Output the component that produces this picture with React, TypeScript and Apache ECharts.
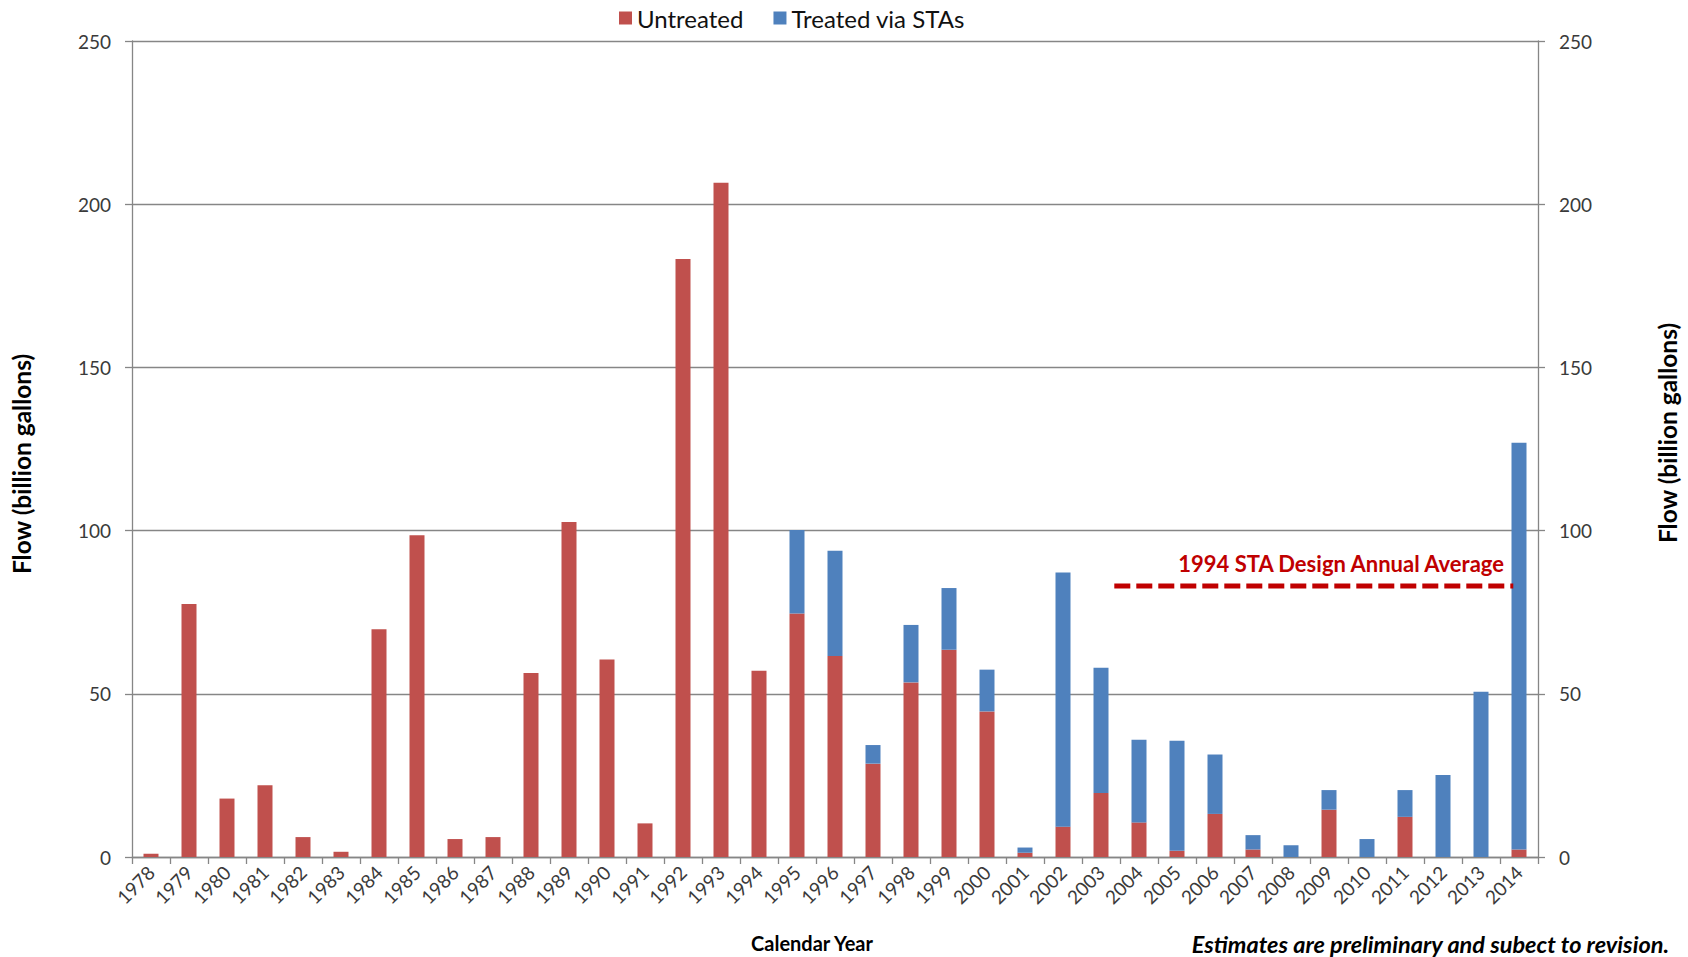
import React, { useEffect, useRef } from "react";
import * as echarts from "echarts";

const years: string[] = [
  "1978", "1979", "1980", "1981", "1982", "1983", "1984", "1985", "1986", "1987",
  "1988", "1989", "1990", "1991", "1992", "1993", "1994", "1995", "1996", "1997",
  "1998", "1999", "2000", "2001", "2002", "2003", "2004", "2005", "2006", "2007",
  "2008", "2009", "2010", "2011", "2012", "2013", "2014",
];

const untreated: number[] = [
  1.0, 77.5, 17.9, 22.0, 6.1, 1.6, 69.8, 98.6, 5.5, 6.1,
  56.4, 102.6, 60.5, 10.3, 183.2, 206.6, 57.1, 74.6, 61.6, 28.6,
  53.5, 63.5, 44.6, 1.3, 9.3, 19.6, 10.6, 1.9, 13.2, 2.3,
  0, 14.5, 0, 12.3, 0, 0, 2.3,
];

const treated: number[] = [
  0, 0, 0, 0, 0, 0, 0, 0, 0, 0,
  0, 0, 0, 0, 0, 0, 0, 25.6, 32.2, 5.7,
  17.6, 18.9, 12.8, 1.6, 77.9, 38.4, 25.3, 33.7, 18.2, 4.4,
  3.6, 6.0, 5.5, 8.2, 25.1, 50.6, 124.6,
];

const yTicks = { min: 0, max: 250, interval: 50 };

const designAverage = 83;
const designLineSpan: [number, number] = [25.85, 36.35];

const FONT = "Lato, 'Open Sans', sans-serif";

export default function App() {
  const ref = useRef<HTMLDivElement>(null);

  useEffect(() => {
    if (!ref.current) return;
    const chart = echarts.init(ref.current, null, { renderer: "svg" });

    const axisGray = "#868686";
    const labelColor = "#3a3a3a";

    const yAxisCommon = {
      type: "value" as const,
      min: yTicks.min,
      max: yTicks.max,
      interval: yTicks.interval,
      axisLine: { show: true, lineStyle: { color: axisGray, width: 1.3 } },
      axisTick: { show: true, length: 7, lineStyle: { color: axisGray, width: 1.3 } },
      axisLabel: { color: labelColor, fontSize: 19, fontFamily: FONT, margin: 21 },
    };

    chart.setOption({
      animation: false,
      backgroundColor: "#ffffff",
      textStyle: { fontFamily: FONT },
      grid: { left: 132, right: 150, top: 41, bottom: 100, containLabel: false },
      legend: {
        data: ["Untreated", "Treated via STAs"],
        left: 614,
        top: 1,
        icon: "rect",
        itemWidth: 13,
        itemHeight: 13,
        itemGap: 30,
        textStyle: { fontSize: 24, color: "#111", fontFamily: FONT },
      },
      xAxis: [
        {
          type: "category",
          data: years,
          boundaryGap: true,
          axisLine: { show: true, lineStyle: { color: axisGray, width: 1.3 } },
          axisTick: { show: true, length: 7, alignWithLabel: false, lineStyle: { color: axisGray, width: 1.3 } },
          axisLabel: {
            rotate: 45,
            interval: 0,
            color: labelColor,
            fontSize: 19,
            fontFamily: FONT,
            margin: 12,
          },
          splitLine: { show: false },
        },
        {
          type: "value",
          min: 0,
          max: years.length,
          show: false,
        },
      ],
      yAxis: [
        {
          ...yAxisCommon,
          position: "left",
          splitLine: { show: true, lineStyle: { color: axisGray, width: 1.3 } },
        },
        {
          ...yAxisCommon,
          position: "right",
          splitLine: { show: false },
        },
      ],
      series: [
        {
          name: "Untreated",
          type: "bar",
          stack: "flow",
          data: untreated,
          barWidth: 15,
          z: 2,
          itemStyle: { color: "#C0504D" },
        },
        {
          name: "Treated via STAs",
          type: "bar",
          stack: "flow",
          data: treated,
          barWidth: 15,
          z: 2,
          itemStyle: { color: "#4F81BD" },
        },
        {
          name: "Design Average",
          type: "line",
          xAxisIndex: 1,
          yAxisIndex: 0,
          data: [
            [designLineSpan[0], designAverage],
            [designLineSpan[1], designAverage],
          ],
          symbol: "none",
          z: 4,
          lineStyle: { color: "#C00000", width: 5, type: [16, 6] },
        },
      ],
      graphic: [
        {
          type: "text",
          x: 21,
          y: 464,
          rotation: Math.PI / 2,
          style: {
            text: "Flow (billion gallons)",
            font: `bold 24.5px ${FONT}`,
            fill: "#000",
            textAlign: "center",
            textVerticalAlign: "middle",
          },
        },
        {
          type: "text",
          x: 1667,
          y: 433,
          rotation: Math.PI / 2,
          style: {
            text: "Flow (billion gallons)",
            font: `bold 24.5px ${FONT}`,
            fill: "#000",
            textAlign: "center",
            textVerticalAlign: "middle",
          },
        },
        {
          type: "text",
          x: 812,
          y: 943,
          style: {
            text: "Calendar Year",
            font: `bold 20px ${FONT}`,
            fill: "#000",
            textAlign: "center",
            textVerticalAlign: "middle",
          },
        },
        {
          type: "text",
          x: 1669,
          y: 944,
          style: {
            text: "Estimates are preliminary and subect to revision.",
            font: `italic bold 23.5px ${FONT}`,
            fill: "#000",
            textAlign: "right",
            textVerticalAlign: "middle",
          },
        },
        {
          type: "text",
          x: 1504,
          y: 563,
          style: {
            text: "1994 STA Design Annual Average",
            font: `bold 22px ${FONT}`,
            fill: "#C00000",
            textAlign: "right",
            textVerticalAlign: "middle",
          },
        },
      ],
    });

    return () => {
      chart.dispose();
    };
  }, []);

  return (
    <div
      ref={ref}
      style={{ position: "fixed", left: 0, top: 0, width: 1688, height: 957, background: "#fff" }}
    />
  );
}
